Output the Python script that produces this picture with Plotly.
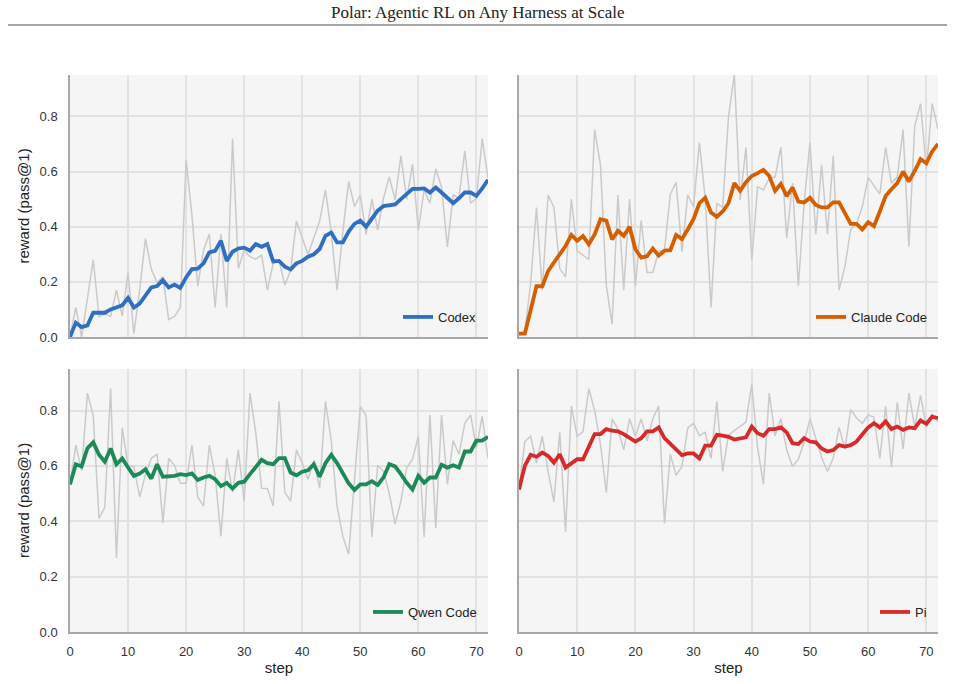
import plotly.graph_objects as go

W, H = 955, 684

steps = list(range(73))

codex_raw = [0.0, 0.107, 0.0, 0.14, 0.28, 0.073, 0.085, 0.075, 0.17, 0.076,
             0.234, 0.012, 0.17, 0.357, 0.246, 0.198, 0.218, 0.063, 0.075, 0.107,
             0.642, 0.442, 0.184, 0.315, 0.373, 0.107, 0.373, 0.107, 0.719, 0.248,
             0.315, 0.291, 0.282, 0.297, 0.17, 0.267, 0.279, 0.188, 0.242, 0.42,
             0.36, 0.30, 0.36, 0.42, 0.533, 0.38, 0.17, 0.382, 0.564, 0.473,
             0.515, 0.372, 0.5, 0.388, 0.503, 0.58, 0.497, 0.657, 0.5, 0.627,
             0.388, 0.533, 0.485, 0.61, 0.543, 0.327, 0.515, 0.505, 0.675, 0.485,
             0.503, 0.719, 0.576]
codex_smooth = [0.0, 0.052, 0.036, 0.042, 0.088, 0.088, 0.088, 0.1, 0.107, 0.115,
                0.142, 0.107, 0.121, 0.152, 0.18, 0.185, 0.206, 0.18, 0.19, 0.178,
                0.216, 0.246, 0.248, 0.267, 0.307, 0.312, 0.349, 0.276, 0.309, 0.321,
                0.324, 0.313, 0.337, 0.327, 0.337, 0.274, 0.276, 0.255, 0.245, 0.267,
                0.276, 0.291, 0.3, 0.319, 0.367, 0.379, 0.343, 0.343, 0.382, 0.41,
                0.422, 0.4, 0.428, 0.458, 0.475, 0.478, 0.481, 0.5, 0.519, 0.537,
                0.537, 0.539, 0.524, 0.542, 0.524, 0.503, 0.485, 0.503, 0.524, 0.524,
                0.512, 0.539, 0.57]

claude_raw = [0.01, 0.02, 0.194, 0.469, 0.17, 0.515, 0.47, 0.248, 0.218, 0.5,
              0.312, 0.297, 0.281, 0.752, 0.624, 0.188, 0.046, 0.515, 0.17, 0.5,
              0.185, 0.422, 0.234, 0.234, 0.312, 0.315, 0.518, 0.561, 0.309, 0.515,
              0.473, 0.705, 0.503, 0.107, 0.485, 0.47, 0.8, 0.95, 0.497, 0.688,
              0.279, 0.545, 0.533, 0.576, 0.58, 0.688, 0.358, 0.558, 0.184, 0.487,
              0.705, 0.373, 0.624, 0.373, 0.657, 0.17, 0.255, 0.39, 0.41, 0.473,
              0.578, 0.549, 0.518, 0.688, 0.558, 0.58, 0.752, 0.327, 0.764, 0.846,
              0.61, 0.846, 0.752]
claude_smooth = [0.012, 0.012, 0.097, 0.184, 0.184, 0.239, 0.27, 0.3, 0.33, 0.37,
                 0.349, 0.366, 0.336, 0.372, 0.427, 0.422, 0.354, 0.385, 0.367, 0.4,
                 0.318, 0.288, 0.293, 0.321, 0.295, 0.313, 0.315, 0.37, 0.355, 0.39,
                 0.428, 0.485, 0.505, 0.451, 0.436, 0.455, 0.485, 0.558, 0.53, 0.561,
                 0.584, 0.594, 0.606, 0.584, 0.53, 0.555, 0.511, 0.542, 0.491, 0.488,
                 0.505, 0.479, 0.47, 0.47, 0.488, 0.488, 0.448, 0.41, 0.41, 0.39,
                 0.416, 0.402, 0.455, 0.511, 0.536, 0.558, 0.6, 0.564, 0.602, 0.645,
                 0.63, 0.673, 0.7]

qwen_raw = [0.533, 0.675, 0.582, 0.863, 0.782, 0.41, 0.451, 0.879, 0.267, 0.737,
            0.6, 0.598, 0.487, 0.57, 0.628, 0.642, 0.394, 0.627, 0.602, 0.537,
            0.537, 0.675, 0.488, 0.455, 0.675, 0.566, 0.345, 0.627, 0.505, 0.658,
            0.473, 0.863, 0.719, 0.519, 0.518, 0.455, 0.833, 0.505, 0.473, 0.658,
            0.61, 0.552, 0.62, 0.519, 0.833, 0.691, 0.455, 0.345, 0.281, 0.55,
            0.815, 0.782, 0.343, 0.602, 0.58, 0.5, 0.39, 0.473, 0.594, 0.624,
            0.707, 0.343, 0.784, 0.376, 0.784, 0.533, 0.691, 0.642, 0.754, 0.784,
            0.663, 0.779, 0.627]
qwen_smooth = [0.533, 0.606, 0.598, 0.664, 0.685, 0.64, 0.615, 0.663, 0.606, 0.627,
               0.594, 0.564, 0.572, 0.588, 0.554, 0.606, 0.561, 0.561, 0.564, 0.57,
               0.567, 0.573, 0.549, 0.558, 0.564, 0.552, 0.527, 0.539, 0.518, 0.539,
               0.543, 0.57, 0.598, 0.622, 0.61, 0.606, 0.628, 0.628, 0.576, 0.566,
               0.579, 0.584, 0.606, 0.561, 0.61, 0.64, 0.61, 0.573, 0.537, 0.513,
               0.533, 0.533, 0.545, 0.531, 0.558, 0.606, 0.598, 0.57, 0.539, 0.515,
               0.564, 0.539, 0.558, 0.558, 0.604, 0.594, 0.602, 0.594, 0.652, 0.652,
               0.691, 0.691, 0.705]

pi_raw = [0.515, 0.688, 0.707, 0.61, 0.707, 0.58, 0.47, 0.721, 0.361, 0.816,
          0.707, 0.724, 0.879, 0.8, 0.679, 0.503, 0.77, 0.733, 0.658, 0.77,
          0.707, 0.77, 0.691, 0.77, 0.816, 0.392, 0.642, 0.566, 0.598, 0.737,
          0.754, 0.709, 0.721, 0.627, 0.833, 0.58, 0.712, 0.727, 0.745, 0.758,
          0.895, 0.667, 0.533, 0.863, 0.709, 0.77, 0.658, 0.598, 0.624, 0.685,
          0.77, 0.70, 0.63, 0.58, 0.628, 0.739, 0.661, 0.804, 0.773, 0.754,
          0.784, 0.776, 0.627, 0.815, 0.596, 0.83, 0.661, 0.863, 0.739, 0.855,
          0.739, 0.788, 0.758]
pi_smooth = [0.515, 0.6, 0.64, 0.633, 0.648, 0.636, 0.612, 0.642, 0.594, 0.61,
             0.624, 0.624, 0.667, 0.715, 0.715, 0.733, 0.727, 0.725, 0.715, 0.7,
             0.688, 0.7, 0.725, 0.725, 0.739, 0.7, 0.679, 0.657, 0.639, 0.645,
             0.645, 0.627, 0.673, 0.673, 0.712, 0.709, 0.705, 0.695, 0.7, 0.703,
             0.742, 0.718, 0.709, 0.733, 0.733, 0.739, 0.721, 0.682, 0.679, 0.7,
             0.688, 0.685, 0.663, 0.652, 0.657, 0.675, 0.67, 0.675, 0.688, 0.712,
             0.739, 0.754, 0.739, 0.761, 0.733, 0.742, 0.73, 0.739, 0.736, 0.764,
             0.752, 0.778, 0.772]

harness_names = ["Codex", "Claude Code", "Qwen Code", "Pi"]
harness_colors = ["#2f6fc2", "#d55e00", "#1b8a58", "#d62a2a"]
raw_series = [codex_raw, claude_raw, qwen_raw, pi_raw]
smooth_series = [codex_smooth, claude_smooth, qwen_smooth, pi_smooth]

x_ticks = [0, 10, 20, 30, 40, 50, 60, 70]
y_ticks = [0.0, 0.2, 0.4, 0.6, 0.8]

title_text = "Polar: Agentic RL on Any Harness at Scale"
y_title = "reward (pass@1)"
x_title = "step"

# panel geometry in pixels (left, right, top, bottom)
panels = [(70, 488, 75, 337), (519, 938, 75, 337),
          (70, 488, 369, 632), (519, 938, 369, 632)]

GRAY_RAW = "#cacaca"
SANS = "Liberation Sans, Arial, sans-serif"

fig = go.Figure()
layout = {}
for i, name in enumerate(harness_names):
    ax = "" if i == 0 else str(i + 1)
    leg = "legend" if i == 0 else f"legend{i + 1}"
    fig.add_trace(go.Scatter(x=steps, y=raw_series[i], mode="lines",
                             line=dict(color=GRAY_RAW, width=1.5),
                             showlegend=False, hoverinfo="skip",
                             xaxis="x" + ax, yaxis="y" + ax))
    fig.add_trace(go.Scatter(x=steps, y=smooth_series[i], mode="lines",
                             name=name,
                             line=dict(color=harness_colors[i], width=3.8),
                             showlegend=True, legend=leg,
                             xaxis="x" + ax, yaxis="y" + ax))
    l, r, t, b = panels[i]
    bottom_row = i >= 2
    left_col = i % 2 == 0
    layout["xaxis" + ax] = dict(
        domain=[l / W, r / W], range=[0, 72], anchor="y" + ax,
        automargin=False,
        tickvals=x_ticks, showticklabels=bottom_row, ticks="",
        ticklabelstandoff=7,
        showgrid=True, gridcolor="#e2e2e2", gridwidth=1.5,
        showline=True, linecolor="#a8a8a8", linewidth=1.5,
        zeroline=False, tickfont=dict(family=SANS, size=13, color="#333333"),
        title=dict(text=x_title if bottom_row else "",
                   font=dict(family=SANS, size=15, color="#222222"), standoff=4),
        fixedrange=True,
    )
    layout["yaxis" + ax] = dict(
        domain=[1 - b / H, 1 - t / H], range=[0, 0.95], anchor="x" + ax,
        automargin=False,
        tickvals=y_ticks, tickformat=".1f", showticklabels=left_col, ticks="",
        ticklabelstandoff=8,
        showgrid=True, gridcolor="#e2e2e2", gridwidth=1.5,
        showline=True, linecolor="#a8a8a8", linewidth=1.5,
        zeroline=False, tickfont=dict(family=SANS, size=13, color="#333333"),
        title=dict(text=y_title if left_col else "",
                   font=dict(family=SANS, size=15, color="#222222"), standoff=6),
        fixedrange=True,
    )
    layout[leg] = dict(
        x=(r - 6) / W, xanchor="right",
        y=1 - (b - 20) / H, yanchor="middle",
        bgcolor="rgba(0,0,0,0)", borderwidth=0,
        font=dict(family=SANS, size=13, color="#222222"),
    )

fig.update_layout(**layout)
fig.update_layout(
    width=W, height=H,
    margin=dict(l=0, r=0, t=0, b=0),
    paper_bgcolor="white", plot_bgcolor="#f5f5f5",
    annotations=[dict(text=title_text, x=0.5, y=1 - 13 / H, xref="paper",
                      yref="paper", xanchor="center", yanchor="middle",
                      showarrow=False,
                      font=dict(family="Liberation Serif, serif", size=17,
                                color="#222222"))],
    shapes=[dict(type="line", xref="paper", yref="paper",
                 x0=8 / W, x1=947 / W, y0=1 - 25 / H, y1=1 - 25 / H,
                 line=dict(color="#8a8a8a", width=1.5))],
)

fig.write_html("out.html")
